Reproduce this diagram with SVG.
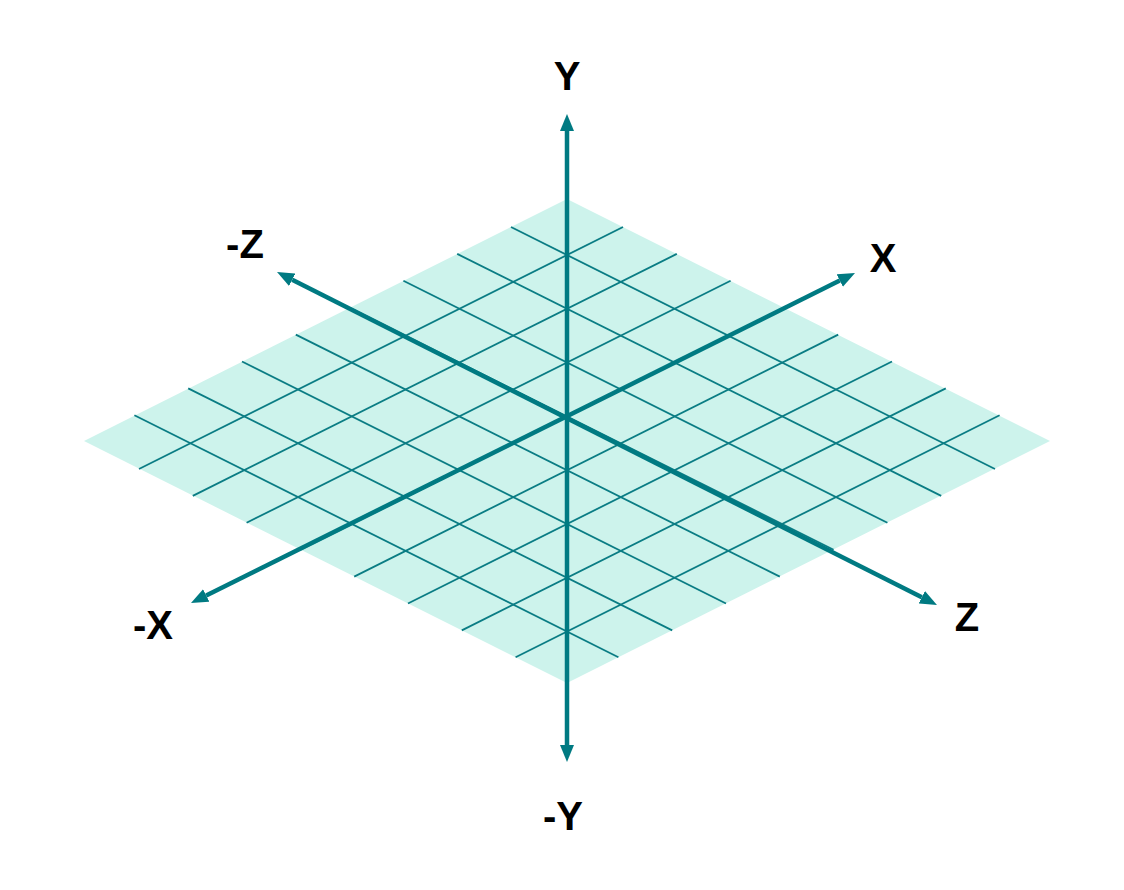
<svg xmlns="http://www.w3.org/2000/svg" width="1124" height="890" viewBox="0 0 1124 890">
  <style>
    .plane { fill: #cdf3ec; stroke: none; }
    .grid line { stroke: #0a7c84; stroke-width: 1.8; }
    .axis { stroke: #007a82; stroke-width: 4.5; fill: none; }
    .lbl { font-family: "Liberation Sans", Arial, sans-serif; font-weight: bold; font-size: 40px; fill: #000; text-anchor: middle; }
  </style>
  <defs>
    <marker id="arrow" markerUnits="userSpaceOnUse" markerWidth="17" markerHeight="14" viewBox="0 -7 17 14" refX="0" refY="0" orient="auto-start-reverse">
      <path d="M0,-7 L17,0 L0,7 Z" fill="#007a82"/>
    </marker>
  </defs>
  <rect width="1124" height="890" fill="#ffffff"/>

  <g id="plane">
    <polygon class="plane" points="567,199 1050,441 567,683 84,441"/>
    <g class="grid">
      <line x1="511" y1="227" x2="995" y2="469"/>
      <line x1="457.2" y1="253.9" x2="941.2" y2="495.9"/>
      <line x1="403.4" y1="280.8" x2="887.4" y2="522.8"/>
      <line x1="349.6" y1="307.7" x2="833.6" y2="549.7"/>
      <line x1="295.8" y1="334.6" x2="779.8" y2="576.6"/>
      <line x1="242" y1="361.5" x2="726" y2="603.5"/>
      <line x1="188.2" y1="388.4" x2="672.2" y2="630.4"/>
      <line x1="134.4" y1="415.3" x2="618.4" y2="657.3"/>
      <line x1="623" y1="227" x2="139" y2="469"/>
      <line x1="676.8" y1="253.9" x2="192.8" y2="495.9"/>
      <line x1="730.6" y1="280.8" x2="246.6" y2="522.8"/>
      <line x1="784.4" y1="307.7" x2="300.4" y2="549.7"/>
      <line x1="838.2" y1="334.6" x2="354.2" y2="576.6"/>
      <line x1="892" y1="361.5" x2="408" y2="603.5"/>
      <line x1="945.8" y1="388.4" x2="461.8" y2="630.4"/>
      <line x1="999.6" y1="415.3" x2="515.6" y2="657.3"/>
    </g>
  </g>

  <g id="connectors">
    <line id="axis-y" class="axis" x1="567" y1="745" x2="567" y2="131" marker-start="url(#arrow)" marker-end="url(#arrow)"/>
    <line id="axis-x" class="axis" x1="206.2" y1="595.4" x2="839.8" y2="280.6" marker-start="url(#arrow)" marker-end="url(#arrow)"/>
    <line id="axis-z" class="axis" x1="292.2" y1="279.7" x2="921.8" y2="597.3" marker-start="url(#arrow)" marker-end="url(#arrow)"/>
  </g>

  <g id="label-y"><text class="lbl" x="567" y="90">Y</text></g>
  <g id="label-neg-y"><text class="lbl" x="563" y="830">-Y</text></g>
  <g id="label-x"><text class="lbl" x="883" y="272">X</text></g>
  <g id="label-neg-x"><text class="lbl" x="153" y="639">-X</text></g>
  <g id="label-z"><text class="lbl" x="967" y="631">Z</text></g>
  <g id="label-neg-z"><text class="lbl" x="245" y="258">-Z</text></g>
</svg>
